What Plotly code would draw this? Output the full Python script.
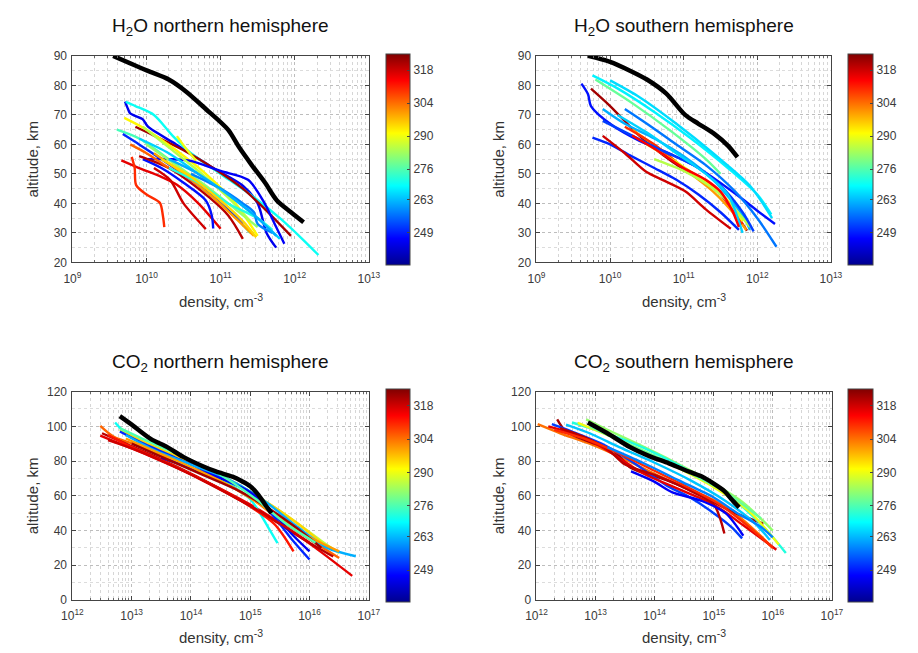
import numpy as np
import plotly.graph_objects as go
from plotly.colors import sample_colorscale

# ---------------- data (log10 density in cm^-3, altitude in km, temperature K) ----------------
cbar_ticks = [249, 263, 276, 290, 304, 318]
t_min, t_max = 235.5, 325.0

# H2O northern hemisphere
h2o_n_black_logn = [9.55, 10.01, 10.30, 10.54, 10.80, 11.10, 11.25, 11.42, 11.60, 11.76, 11.95, 12.12]
h2o_n_black_alt = [90, 85, 82, 77.8, 72, 65, 59, 53, 47, 41, 37, 33.6]
h2o_n_temp = [245, 270, 322, 292, 275, 250, 290, 316, 310, 318, 248, 246, 265, 282, 300, 285, 320, 272, 258, 295, 262, 305]
h2o_n_logn = [
    [9.71, 9.75, 9.78, 9.95, 10.02, 10.4, 10.9, 11.3, 11.5, 11.62, 11.75],
    [9.72, 9.85, 10.1, 10.35, 10.6, 11.0, 11.4, 11.8, 12.1, 12.32],
    [9.85, 10.1, 10.5, 10.9, 11.3, 11.6, 11.95],
    [9.70, 10.0, 10.4, 10.8, 11.2, 11.5],
    [9.60, 9.9, 10.3, 10.7, 11.1, 11.4],
    [9.68, 9.9, 10.2, 10.6, 11.0, 11.3],
    [10.41, 10.55, 10.67],
    [9.66, 9.9, 10.2, 10.41, 10.7, 11.0],
    [9.80, 9.84, 9.86, 10.0, 10.18, 10.22, 10.24],
    [10.1, 10.32, 10.5, 10.8],
    [9.95, 10.2, 10.5, 10.8, 10.88, 10.9],
    [10.0, 10.3, 10.58, 11.0, 11.37, 11.59, 11.75, 11.86],
    [9.9, 10.3, 10.7, 11.1, 11.5, 11.8],
    [10.0, 10.4, 10.8, 11.2, 11.5],
    [10.1, 10.5, 10.9, 11.2, 11.45],
    [9.95, 10.3, 10.7, 11.1, 11.4],
    [9.9, 10.3, 10.7, 11.1, 11.3],
    [10.3, 10.7, 11.1, 11.5, 11.7],
    [10.6, 11.0, 11.3, 11.45, 11.5, 11.7],
    [10.2, 10.6, 11.0, 11.3, 11.48],
    [10.3, 10.7, 11.1, 11.5, 11.75],
    [9.78, 10.0, 10.3],
]
h2o_n_alt = [
    [74.5, 72, 70.5, 68.5, 66, 60, 52, 46, 40, 30, 25],
    [74.4, 73, 70, 63, 57, 50, 43, 35, 28, 22.5],
    [66, 63, 58, 52, 45, 38, 29],
    [69, 65, 58, 50, 40, 29],
    [65, 62, 55, 47, 38, 30],
    [63.5, 60, 55, 48, 40, 33],
    [62.8, 58, 54.5],
    [54.6, 52, 49, 46.3, 40, 31.4],
    [55.8, 52, 46.2, 43, 40.2, 36, 32],
    [52, 47.9, 40, 31.3],
    [55, 52, 47, 41, 36, 31.5],
    [55, 55, 54.5, 51, 48, 40.2, 32, 26.3],
    [62, 57, 50, 43, 35, 28],
    [60, 53, 46, 38, 32],
    [57, 50, 42, 35, 29],
    [66, 59, 51, 42, 34],
    [56, 52, 45, 36, 28],
    [52, 47, 40, 35, 31],
    [50, 45, 40, 37, 33, 30],
    [55, 49, 41, 34, 28.5],
    [55, 50, 43, 35, 29],
    [60, 57, 52],
]

# H2O southern hemisphere
h2o_s_black_logn = [9.70, 10.0, 10.27, 10.5, 10.76, 11.02, 11.2, 11.42, 11.6, 11.73]
h2o_s_black_alt = [90, 88, 85, 82, 77.3, 70, 67, 63.5, 59.6, 55.7]
h2o_s_temp = [248, 268, 266, 278, 322, 250, 318, 257, 262, 300, 310, 290, 285, 252, 265, 314]
h2o_s_logn = [
    [9.61, 9.70, 9.74, 10.0, 10.4, 10.8, 11.2, 11.77, 12.0, 12.24],
    [9.76, 10.1, 10.6, 11.1, 11.6, 12.0, 12.19],
    [10.0, 10.4, 10.9, 11.4, 11.9, 12.2],
    [9.8, 10.3, 10.8, 11.3, 11.5],
    [9.74, 10.0, 10.4, 10.85, 11.1, 11.42, 11.6, 11.77, 11.86],
    [9.76, 10.0, 10.27, 10.6, 10.9, 11.2, 11.5, 11.75],
    [9.9, 10.2, 10.49, 10.71, 11.02, 11.3, 11.64],
    [10.2, 10.5, 10.9, 11.3, 11.7, 12.0, 12.26],
    [9.9, 10.2, 10.6, 11.0, 11.4, 11.8, 11.9],
    [10.3, 10.7, 11.1, 11.4, 11.7, 11.85],
    [10.2, 10.6, 11.0, 11.4, 11.6, 11.8],
    [10.5, 10.9, 11.3, 11.6, 11.8],
    [10.6, 11.0, 11.4, 11.7, 11.9],
    [9.9, 10.3, 10.7, 11.2, 11.5, 11.8, 11.95],
    [10.1, 10.5, 10.9, 11.3, 11.6, 11.8],
    [10.3, 10.7, 11.0, 11.3, 11.5, 11.65, 11.75],
]
h2o_s_alt = [
    [80.6, 77, 73, 67, 61.2, 57, 52, 42, 37.5, 33],
    [83.4, 79, 71, 62, 52, 43, 36.3],
    [81.7, 76, 67, 57, 46, 35],
    [82, 74, 65, 55, 50],
    [78.9, 73, 62.9, 54, 50, 45.2, 40, 34.1, 30.8],
    [62.3, 60, 56.3, 52, 48, 43, 37, 31],
    [62.9, 57, 50.7, 48, 44.1, 38, 31.4],
    [72, 67, 60, 53, 44, 35, 25.3],
    [72, 67, 62, 56, 48, 36, 31],
    [65, 58, 50, 44, 36, 31],
    [66, 60, 52, 46, 40, 33],
    [60, 54, 47, 41, 34],
    [55, 51, 45, 38, 32],
    [68, 63, 58, 52, 46, 37, 30.5],
    [70, 64, 57, 50, 43, 30],
    [63, 57, 52, 48, 44, 38, 32],
]

# CO2 northern hemisphere
co2_n_black_logn = [12.8, 13.0, 13.32, 13.6, 13.87, 14.2, 14.42, 14.7, 14.86, 15.0, 15.13, 15.25, 15.36]
co2_n_black_alt = [105.9, 101, 92.8, 88, 82.4, 77, 74, 71, 68.4, 65.5, 60.8, 55, 50]
co2_n_temp = [305, 316, 270, 286, 295, 320, 312, 250, 262, 245, 300, 322, 276, 318]
co2_n_logn = [
    [12.47, 12.7, 13.2, 13.8, 14.4, 15.0, 15.5, 16.0, 16.5],
    [12.47, 12.8, 13.3, 13.9, 14.5, 15.1, 15.6, 16.1, 16.72],
    [12.72, 12.9, 13.3, 13.9, 14.5, 15.0, 15.3, 15.46],
    [12.8, 13.2, 13.8, 14.4, 15.0, 15.6, 16.2, 16.5],
    [12.9, 13.4, 14.0, 14.6, 15.2, 15.8, 16.3],
    [12.5, 12.9, 13.5, 14.1, 14.7, 15.3, 15.9, 16.4],
    [12.6, 13.0, 13.6, 14.2, 14.8, 15.4, 15.73],
    [12.8, 13.2, 13.8, 14.4, 15.0, 15.4, 15.7, 16.0],
    [12.9, 13.4, 14.0, 14.6, 15.2, 15.8, 16.3, 16.78],
    [13.5, 14.0, 14.5, 15.0, 15.4, 15.7, 16.0],
    [12.9, 13.5, 14.1, 14.7, 15.3, 15.9, 16.5],
    [13.0, 13.6, 14.2, 14.8, 15.3, 15.8, 16.2],
    [12.8, 13.3, 13.9, 14.5, 15.1, 15.6, 16.1],
    [12.6, 13.1, 13.7, 14.3, 14.9, 15.5, 16.0],
]
co2_n_alt = [
    [100.3, 94, 88, 79, 70, 59, 46, 35, 24.2],
    [94.6, 90, 83, 74, 64, 53, 42, 30, 13.9],
    [102.2, 96, 89, 80, 70, 58, 42, 32.7],
    [98, 91, 82, 73, 62, 49, 34, 27],
    [96, 88, 79, 70, 58, 44, 30],
    [96, 90, 81, 71, 60, 48, 35, 25],
    [95, 88, 79, 69, 58, 44, 28],
    [97, 90, 81, 72, 62, 48, 35, 23.3],
    [95, 86, 78, 70, 58, 42, 30, 25.2],
    [82, 76, 70, 62, 50, 38, 28],
    [93, 84, 75, 65, 52, 38, 28],
    [90, 81, 72, 63, 53, 41, 30],
    [99, 91, 82, 72, 58, 44, 33],
    [92, 86, 77, 67, 56, 44, 33],
]

# CO2 southern hemisphere
co2_s_black_logn = [12.87, 13.2, 13.58, 13.9, 14.24, 14.5, 14.79, 15.0, 15.18, 15.3, 15.43]
co2_s_black_alt = [102.2, 96, 88.1, 83, 78.7, 75, 71.2, 67, 62.7, 58, 53.3]
co2_s_temp = [304, 322, 252, 282, 272, 264, 316, 320, 310, 290, 278, 246, 258]
co2_s_logn = [
    [12.02, 12.4, 12.9, 13.5, 14.1, 14.7, 15.2, 15.7, 16.0],
    [12.35, 12.5, 12.9, 13.3, 13.6, 14.2, 14.8, 15.3, 15.84],
    [12.26, 12.6, 13.1, 13.6, 14.2, 14.6, 15.0, 15.3, 15.48],
    [12.84, 13.2, 13.7, 14.3, 14.9, 15.5, 16.0],
    [12.6, 13.0, 13.5, 14.1, 14.7, 15.3, 15.9, 16.22],
    [12.5, 12.9, 13.4, 14.0, 14.6, 15.2, 15.7, 15.95],
    [12.2, 12.6, 13.0, 13.3, 13.8, 14.4, 15.0, 15.5, 16.06],
    [12.4, 12.8, 13.2, 13.5, 14.0, 14.6, 15.0, 15.18],
    [12.3, 12.8, 13.3, 13.9, 14.5, 15.1, 15.6, 16.0],
    [12.7, 13.2, 13.8, 14.4, 15.0, 15.6, 16.1],
    [12.9, 13.4, 14.0, 14.6, 15.2, 15.8],
    [13.6, 14.0, 14.3, 14.8, 15.2, 15.5],
    [13.2, 13.8, 14.4, 15.0, 15.4, 15.8, 16.0],
]
co2_s_alt = [
    [101.2, 96, 90, 81, 71, 62, 54, 40, 30],
    [104, 97, 91, 86, 76, 69, 60, 51, 44],
    [101.2, 97, 90, 80, 66, 59, 50, 42, 35.5],
    [104, 98, 90, 80, 69, 56, 40],
    [102.2, 98, 92, 83, 72, 59, 40, 27],
    [101, 96, 88, 79, 69, 57, 44, 34.6],
    [100, 96, 90, 84, 73, 64, 55, 43, 28.9],
    [99, 94, 87, 78, 72, 63, 55, 38.3],
    [98, 93, 86, 76, 66, 55, 42, 30],
    [102, 95, 86, 76, 65, 51, 32],
    [100, 92, 83, 73, 62, 47],
    [74, 68, 62, 57, 50, 37],
    [88, 79, 69, 59, 50, 42, 36],
]

titles = ["H<sub>2</sub>O northern hemisphere", "H<sub>2</sub>O southern hemisphere",
          "CO<sub>2</sub> northern hemisphere", "CO<sub>2</sub> southern hemisphere"]

# ---------------- layout geometry (pixels) ----------------
W, H = 918, 653
jet = [[0.0, 'rgb(0,0,143)'], [0.125, 'rgb(0,0,255)'], [0.375, 'rgb(0,255,255)'],
       [0.625, 'rgb(255,255,0)'], [0.875, 'rgb(255,0,0)'], [1.0, 'rgb(128,0,0)']]

panels = [
    dict(x0=63, x1=367, y0=50, y1=261, xr=(9, 13), yr=(20, 90), ydt=10, cbx=385, cbw=24,
         temp=h2o_n_temp, logn=h2o_n_logn, alt=h2o_n_alt, blogn=h2o_n_black_logn, balt=h2o_n_black_alt,
         ylabx=22, xlaby=300, titley=20),
    dict(x0=539, x1=841, y0=50, y1=261, xr=(9, 13), yr=(20, 90), ydt=10, cbx=858, cbw=25,
         temp=h2o_s_temp, logn=h2o_s_logn, alt=h2o_s_alt, blogn=h2o_s_black_logn, balt=h2o_s_black_alt,
         ylabx=500, xlaby=300, titley=20),
    dict(x0=63, x1=367, y0=393, y1=606, xr=(12, 17), yr=(0, 120), ydt=20, cbx=385, cbw=24,
         temp=co2_n_temp, logn=co2_n_logn, alt=co2_n_alt, blogn=co2_n_black_logn, balt=co2_n_black_alt,
         ylabx=22, xlaby=643, titley=364),
    dict(x0=539, x1=842, y0=393, y1=606, xr=(12, 17), yr=(0, 120), ydt=20, cbx=858, cbw=25,
         temp=co2_s_temp, logn=co2_s_logn, alt=co2_s_alt, blogn=co2_s_black_logn, balt=co2_s_black_alt,
         ylabx=500, xlaby=643, titley=364),
]

fig = go.Figure()
layout = dict(width=W, height=H, margin=dict(l=0, r=0, t=0, b=0),
              paper_bgcolor='white', plot_bgcolor='white', showlegend=False,
              font=dict(family='Liberation Sans, Arial, sans-serif', color='#222'))
annotations = []

tick_font = dict(size=12, color='#3a3a3a')
for i, p in enumerate(panels):
    n = i + 1
    xa = 'x' if n == 1 else f'x{n}'
    ya = 'y' if n == 1 else f'y{n}'
    ca = 'coloraxis' if n == 1 else f'coloraxis{n}'
    xk = 'xaxis' if n == 1 else f'xaxis{n}'
    yk = 'yaxis' if n == 1 else f'yaxis{n}'

    # coloured profiles
    for T, lx, al in zip(p['temp'], p['logn'], p['alt']):
        c = sample_colorscale(jet, [(T - t_min) / (t_max - t_min)])[0]
        fig.add_trace(go.Scatter(x=10 ** np.array(lx), y=al, mode='lines',
                                 line=dict(color=c, width=2.4, shape='spline', smoothing=0.8),
                                 xaxis=xa, yaxis=ya, hoverinfo='skip'))
    # black mean profile
    fig.add_trace(go.Scatter(x=10 ** np.array(p['blogn']), y=p['balt'], mode='lines',
                             line=dict(color='black', width=4.5, shape='spline', smoothing=0.8),
                             xaxis=xa, yaxis=ya, hoverinfo='skip'))
    # invisible trace to carry the colour bar
    fig.add_trace(go.Scatter(x=[10 ** p['blogn'][0]] * 2, y=[p['balt'][0]] * 2, mode='markers',
                             marker=dict(color=[t_min, t_max], coloraxis=ca, size=1, opacity=0),
                             xaxis=xa, yaxis=ya, hoverinfo='skip'))

    decs = list(range(p['xr'][0], p['xr'][1] + 1))
    minor_vals = [k * 10.0 ** d for d in decs[:-1] for k in range(2, 10)]
    layout[xk] = dict(type='log', range=list(p['xr']), domain=[p['x0'] / W, p['x1'] / W],
                      anchor=ya, tickvals=[10.0 ** d for d in decs],
                      ticktext=[f'10<sup>{d}</sup>' for d in decs],
                      tickfont=tick_font, ticks='inside', ticklen=4, tickcolor='#444',
                      ticklabelstandoff=5,
                      showline=True, linecolor='#444', linewidth=1, mirror='ticks',
                      showgrid=True, gridcolor='#bdbdbd', griddash='dot', gridwidth=1,
                      minor=dict(tickvals=minor_vals, showgrid=True, gridcolor='#d6d6d6',
                                 griddash='dot', gridwidth=1, ticks='inside', ticklen=2, tickcolor='#666'),
                      zeroline=False)
    layout[yk] = dict(range=list(p['yr']), domain=[1 - p['y1'] / H, 1 - p['y0'] / H],
                      anchor=xa, dtick=p['ydt'], tick0=0, tickfont=tick_font,
                      ticks='inside', ticklen=4, tickcolor='#444', ticklabelstandoff=2,
                      showline=True, linecolor='#444', linewidth=1, mirror='ticks',
                      showgrid=True, gridcolor='#bdbdbd', griddash='dot', gridwidth=1,
                      minor=dict(dtick=p['ydt'] / 2, showgrid=True, gridcolor='#dcdcdc', griddash='dot'),
                      zeroline=False)
    layout[ca] = dict(colorscale=jet, cmin=t_min, cmax=t_max,
                      colorbar=dict(x=p['cbx'] / W, xanchor='left', xref='paper',
                                    y=1 - (p['y0'] + p['y1']) / 2 / H, yanchor='middle',
                                    len=p['y1'] - p['y0'], lenmode='pixels',
                                    thickness=p['cbw'], thicknessmode='pixels',
                                    outlinewidth=1, outlinecolor='#444',
                                    tickvals=cbar_ticks, ticktext=[str(v) for v in cbar_ticks],
                                    ticks='inside', ticklen=3, tickcolor='#444',
                                    tickfont=tick_font, xpad=0, ypad=0))

    cx = (p['x0'] + p['x1']) / 2 / W
    annotations.append(dict(text=titles[i], x=cx, y=1 - p['titley'] / H, xref='paper', yref='paper',
                            xanchor='center', yanchor='middle', showarrow=False,
                            font=dict(size=19, color='#111')))
    annotations.append(dict(text='density, cm<sup>-3</sup>', x=cx, y=1 - p['xlaby'] / H,
                            xref='paper', yref='paper', xanchor='center', yanchor='middle',
                            showarrow=False, font=dict(size=15, color='#333')))
    annotations.append(dict(text='altitude, km', x=p['ylabx'] / W, y=1 - (p['y0'] + p['y1']) / 2 / H,
                            xref='paper', yref='paper', xanchor='center', yanchor='middle',
                            textangle=-90, showarrow=False, font=dict(size=15, color='#333')))

layout['annotations'] = annotations
fig.update_layout(**layout)
fig.write_html("out.html")
